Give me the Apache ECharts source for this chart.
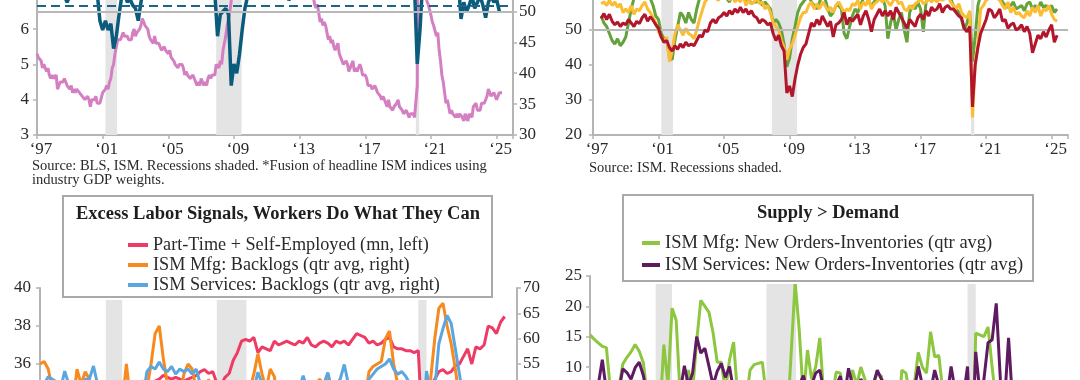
<!DOCTYPE html>
<html><head><meta charset="utf-8">
<script src="https://cdn.jsdelivr.net/npm/echarts/dist/echarts.min.js"></script>
<style>html,body{margin:0;padding:0;background:#fff;overflow:hidden}#c{width:1080px;height:380px}</style>
</head><body><div id="c"></div>
<script>
// ---------- DATA ----------
const xTickYears = [1997, 2001, 2005, 2009, 2013, 2017, 2021, 2025];
const recessionsMonthly = [[2001.17, 2001.88], [2007.92, 2009.46], [2020.08, 2020.28]];
const recessionsQuarterly = [[2001.0, 2002.0], [2007.75, 2009.55], [2020.0, 2020.5]];

// Top-left: unemployment rate (left axis), monthly from Jan 1997
const unemployment = [
5.3,5.2,5.2,5.1,4.9,5.0,4.9,4.8,4.9,4.7,4.6,4.7,
4.6,4.6,4.7,4.3,4.4,4.5,4.5,4.5,4.6,4.5,4.4,4.4,
4.3,4.4,4.2,4.3,4.2,4.3,4.3,4.2,4.2,4.1,4.1,4.0,
4.0,4.1,4.0,3.8,4.0,4.0,4.0,4.1,3.9,3.9,3.9,3.9,
4.2,4.2,4.3,4.4,4.3,4.5,4.6,4.9,5.0,5.3,5.5,5.7,
5.7,5.7,5.7,5.9,5.8,5.8,5.8,5.7,5.7,5.7,5.9,6.0,
5.8,5.9,5.9,6.0,6.1,6.3,6.2,6.1,6.1,6.0,5.8,5.7,
5.7,5.6,5.8,5.6,5.6,5.6,5.5,5.4,5.4,5.5,5.4,5.4,
5.3,5.4,5.2,5.2,5.1,5.0,5.0,4.9,5.0,5.0,5.0,4.9,
4.7,4.8,4.7,4.7,4.6,4.6,4.7,4.7,4.5,4.4,4.5,4.4,
4.6,4.5,4.4,4.5,4.4,4.6,4.7,4.6,4.7,4.7,4.7,5.0,
5.0,4.9,5.1,5.0,5.4,5.6,5.8,6.1,6.1,6.5,6.8,7.3,
7.8,8.3,8.7,9.0,9.4,9.5,9.5,9.6,9.8,10.0,9.9,9.9,
9.8,9.8,9.9,9.9,9.6,9.4,9.4,9.5,9.5,9.4,9.8,9.3,
9.1,9.0,9.0,9.1,9.0,9.1,9.0,9.0,9.0,8.8,8.6,8.5,
8.3,8.3,8.2,8.2,8.2,8.2,8.2,8.1,7.8,7.8,7.7,7.9,
8.0,7.7,7.5,7.6,7.5,7.5,7.3,7.2,7.2,7.2,6.9,6.7,
6.6,6.7,6.7,6.2,6.3,6.1,6.2,6.1,5.9,5.7,5.8,5.6,
5.7,5.5,5.4,5.4,5.6,5.3,5.2,5.1,5.0,5.0,5.1,5.0,
4.8,4.9,5.0,5.1,4.8,4.9,4.8,4.9,5.0,4.9,4.7,4.7,
4.7,4.6,4.4,4.4,4.4,4.3,4.3,4.4,4.3,4.2,4.2,4.1,
4.0,4.1,4.0,4.0,3.8,4.0,3.8,3.8,3.7,3.8,3.8,3.9,
4.0,3.8,3.8,3.7,3.6,3.6,3.7,3.6,3.5,3.6,3.6,3.6,
3.5,3.5,4.4,14.8,13.2,11.0,10.2,8.4,7.8,6.8,6.7,6.7,
6.4,6.2,6.1,6.1,5.8,5.9,5.4,5.1,4.7,4.5,4.2,3.9,
4.0,3.8,3.6,3.7,3.6,3.6,3.5,3.6,3.5,3.6,3.6,3.5,
3.4,3.6,3.5,3.4,3.6,3.6,3.5,3.8,3.8,3.9,3.7,3.7,
3.7,3.9,3.9,3.9,4.0,4.1,4.3,4.2,4.1,4.1,4.2,4.1,
4.0,4.1,4.2,4.2,4.2];

// Top-left: ISM fusion index (right axis), every 2 months from Jul 1997
const ismFusion = [
56,57,56,
56,55.5,55,54,52.5,51.5,
52.5,54,56,57,58,57,
58,57,56,54.5,53,48.5,
47,48.5,47,48,44,46,
49.5,52.5,53,51.5,52,51,
50.5,48.5,51.5,54,56,58,
59,60,61,60,59,60,
58,59,58,60,59,58,
59,58,57,56,55,54,
55,54,55,54,53.5,53,
46,49.5,50,50.5,49.5,38,
41.5,40,43,47,50.5,52.5,
54,56,57,56,57,58,
59,58,55,54,54.5,54,
55,56,51.8,52.5,53,53.5,
54,55,53,55.5,56,56.5,
56,55,56.5,57,58,57,
56,55,55.5,57,56,55,
53.5,53,52,53.5,55,56,
57,57.5,56,56.5,58,58,
59,59.5,58.5,58,60,59,
56.5,55,54.5,53.5,52.5,53,
54,41.5,47,55,56,57,
60,62,63,62,61,60,
59,57,55,55.5,55,48.8,
51.5,50,51,52.5,50.5,51.5,
52.5,51,49,51.5,52.5,51.5,
52,50];
const ismFusionAverage = 51;
const ismNeutral = 50;

// Top-right: three ISM indices, every 2 months from Jul 1997
const ismGreen = [
54,52,51,
49,47,46,47.5,45.5,46.5,
48,52,56,59,61,60,
62,61,60,59,57,54,
53,49,47.5,47,42.5,41.5,
47,51,55,54,52,55,
53,52,56,59,61,62,
63,64,62,61,60,61,
60,59,58,60,61,60,
59,60,58,59,57.5,58,
58,59,57,58,57,56,
52,53,52,50,46,39.5,
42,47.5,51,55,57,58,
59,60,58,57,56,58,
60,59,56,54,55,57,
57,56,49,47.5,51,54,
56,55,57,59,60,58,
57,58,59,60,59,57,
47.5,52,55,50,53,55,
50,46.5,55,57,56,58,
56,49.5,58,59,60,61,
60,61,62,60,61,59,
57,56,55,53,50,52,
55,41,48,57,60,62,
63,64,63,62,61,60,
58,57,56.5,57,58,56,
56.5,57,55.5,57.5,58,56,
57,56,58,56.5,57,56,
57,55,56];
const ismGold = [
57.5,58,57,
58.5,57,58,56.5,57.5,55,
56,55,57,54.5,56,55.5,
57,58,56,55,53.5,52,
49.5,48,46.5,48,41,44,
49,51.5,50,48.5,50.5,49,
48.5,47.5,50,53,55.5,58,
59,60,61,59,58.5,60,
59,61,58.5,60,58,59,
58,60,57,58.5,57.5,58,
59,57.5,58,56,57,55,
52,51,50,47,45,41.5,
44.5,46,48.5,51,53.5,55,
55,57,58,56,57.5,56,
58,57,55.5,56.5,55,57,
58,56.5,55,56,55.5,57.5,
57,58.5,56,58,57,59,
56,57.5,58,59,58,59,
58,57,58.5,59,57.5,58,
56,55.5,57,56,57.5,58,
59,57.5,58,59,58,59,
58,59,58.5,59,60,58,
57,56,57.5,55,54,53.5,
55.5,25,40,46,56,57,
58.5,59,61,60,59,58.5,
57,56,58,55,56.5,54.5,
55,54,53.5,55.5,54,56.5,
55,57,54,56,55.5,57,
54.5,53,52.5];
const ismRed = [
53.3,54.7,53,
54.5,52.5,51.5,52.3,51,52,
51.5,53,52,51,52.5,51.8,
53.5,54.5,52.5,53.8,52.8,51.5,
50.5,48,46.5,47,45,44,
45.5,44.5,46,45,46.5,45.5,
46,45.5,47,48.5,48,50,
49.5,52,53,52,53.5,54,
55,54,55.5,54.5,56,55,
56.5,55,56,54.5,55.5,54,
53.5,52,53,52.5,51.5,52,
49,47,48.5,45.5,44,32,
34,31,36,40,43,45,
46,49,52,51,53,51.5,
54,52.5,51,52.5,48,51.5,
52,53,55,51.5,53.5,52.5,
53.5,54.5,51.5,54,55.5,53,
49.5,53,54.5,56,54,55.5,
54,55.5,53,56.5,55,53.5,
52,50.5,53,52,51,53.5,
54.5,53,55.5,54,56.5,55.5,
56,57.5,55,56.5,57,56,
56,55,54,53.5,50.5,49.5,
51,28,40,45,49,51,
53,56,55.5,53.5,54.5,56,
52.5,53,50.5,51.5,52,50,
50.5,51.5,49.5,51,49,43.5,
46,48.5,47.5,49.5,48,50,
51.5,46.5,48.5];

// Bottom-left: quarterly from 1997Q1
const partTimeSelfEmployed = [
34.8,34.6,34.5,34.3, 34.2,34.0,34.1,33.9, 33.8,33.9,33.7,33.8, 33.6,33.5,33.7,33.8,
34.0,34.2,34.5,34.8, 34.9,35.0,34.9,35.0, 35.0,35.1,34.9,35.0, 35.1,35.2,35.4,35.3,
35.2,35.3,35.2,35.1, 35.2,35.3,35.4,35.6, 35.7,35.5,35.6,35.0, 34.9,35.3,35.5,36.2,
36.6,37.2,37.3,37.2, 37.4,36.6,36.9,36.8, 36.7,37.2,37.0,37.1, 37.2,37.1,37.0,37.2,
37.1,37.4,37.0,36.9, 37.1,37.2,37.1,36.9, 37.2,37.1,37.2,37.0, 37.3,37.6,37.5,37.4,
37.1,37.2,37.0,37.1, 37.3,37.4,36.9,36.8, 36.8,36.7,36.7,36.6, 36.7,32.5,34.0,34.8,
35.2,35.6,35.7,35.5, 35.6,35.9,36.0,36.4, 36.8,36.0,36.9,36.8, 37.0,38.0,37.9,37.6,
38.2,38.5];
const ismMfgBacklogs = [
55,55.5,54,50, 47,46,43,42, 47,54,51,53.5, 52,49,45,42,
38,40,41,39, 47,55,48,44, 43,44,50,55, 61,62.5,56,51,
49,46,49,53, 55,54,50,46, 48,52,49,45, 44,45,40,30,
31,40,45,50, 53,57,53,50, 54,52.5,45,44, 50,47,44,46,
49,47,46,51, 52,51,52,49, 48,46,43,42, 44,47,46,48,
53.5,54.5,55,55.5, 60,61.5,55,51, 49,46,44,43, 44,33,45,52,
60,66,67,62.5, 59,54,48,43, 43,41,42,43, 45,42,41,43,
46,44];
const ismSvcBacklogs = [
50,51,52.5,52, 51.5,50,53.6,51, 50,51.5,50,52, 52,54.6,51,47,
45,44,46,43, 48,49,47,48, 46,48,53.5,54.5, 54,55.4,54,53.5,
54.5,53,54,53.5, 54,53,54,51, 50,49,48,47, 46,45,44,38,
37,41,45,48, 50,53.4,51,49, 50,51,49,48, 50,49,50,50,
52.7,50,49,50, 51,51,53.3,50, 51,52,54.9,51, 50,51,49,50,
52,53,54,54.5, 55,56,54,53, 53.5,52.5,51,48, 50,42,53.6,49,
50,59,62,64.6, 63,58,53,48, 46,45,46,47, 44,46,45,44,
46,45];

// Bottom-right: quarterly from 1997Q1
const mfgNewOrdersLessInv = [
15.3,14.6,14.0,13.4, 13.2,6.0,3.0,6.5, 10.5,11.6,12.5,13.7, 12.6,10.7,5.0,1.0,
-4.0,2.0,13.7,7.0, 19.7,17.7,5.0,6.0, 9.5,6.0,14.3,21.0, 20.0,19.0,15.6,10.8,
10.8,6.0,11.2,14.1, 5.0,3.0,4.0,9.5, 10.4,10.6,10.8,5.0, 2.0,-2.0,-6.0,-12.0,
0.0,12.0,24.0,16.0, 5.0,12.8,8.0,10.0, 14.8,5.0,3.0,5.0, 9.2,9.0,4.0,5.0,
9.5,7.0,10.0,8.0, 6.0,7.0,9.0,8.5, 4.0,2.0,0.0,1.0, 9.5,9.0,5.0,7.0,
12.4,10.0,9.0,15.8, 11.7,11.9,6.0,2.0, 2.0,0.0,-2.0,1.0, 3.0,-10.0,15.6,15.3,
15.0,16.6,10.0,4.0, 1.0,-3.0,-8.0,-6.0, -2.0,-4.0,-1.0,0.0, 2.0,-2.0,-3.0,1.0,
2.0,-4.0];
const svcNewOrdersLessInv = [
6,5,7,11.2, 6,4,5,6, 9.7,9.1,8.0,9.9, 10.8,8.6,5,3,
0,2,-4,-2, 3,5,6,10.2, 7,9,15,12.3, 13.1,10.1,7,9.3,
10.6,8.3,10.1,6, 5,7,4,6, 5,6,4,3, 0,2,1,-3,
0,4,6,7, 8.6,6,7,9, 9.5,6,5,6, 7,8.5,5,9.8,
7,6,8,7, 6,7,9.5,8, 7,6,5,7, 6,5,7,6,
10.1,7,5,6, 9.5,7,6,5, 10.1,6,4,5, 10.1,-5,12.5,6,
8,14,14.5,20.5, 8,4,14.8,4, 3,1,4,2, 5,1,3,6,
2,4];

// ---------- CHART ----------
const FONT = '"Liberation Serif", "Times New Roman", serif';
const AX = '#b4b4b4', TXT = '#2a2a2a';
function pairs(start, step, vals) { return vals.map((v, i) => [start + i * step, v]); }
function yr(v) { return xTickYears.indexOf(Math.round(v * 1000) / 1000) >= 0 ? '\u2018' + String(Math.round(v)).slice(2) : ''; }

function xAxis(g) {
  return { type: 'value', gridIndex: g, min: 1997, max: 2026, interval: 4,
    axisLine: { show: true, onZero: false, lineStyle: { color: AX, width: 2 } },
    axisTick: { show: true, length: 4, lineStyle: { color: AX, width: 1.5 } },
    splitLine: { show: false },
    axisLabel: { formatter: yr, fontFamily: FONT, fontSize: 17, color: TXT, margin: 6, padding: [0, 0, 0, 8] } };
}
function yAxis(g, pos, min, max, interval, margin) {
  return { type: 'value', gridIndex: g, position: pos, min: min, max: max, interval: interval,
    axisLine: { show: true, onZero: false, lineStyle: { color: AX, width: 2 } },
    axisTick: { show: true, length: 4, lineStyle: { color: AX, width: 1.5 } },
    splitLine: { show: false },
    axisLabel: { fontFamily: FONT, fontSize: 17, color: TXT, margin: margin,
      formatter: v => (Math.abs((v - min) / interval - Math.round((v - min) / interval)) < 1e-6) ? String(v) : '' } };
}
function bands(g, yi, list, extraLines) {
  return { type: 'line', xAxisIndex: g, yAxisIndex: yi, data: [], silent: true, z: 1,
    markArea: { silent: true, itemStyle: { color: '#e4e4e4' }, data: list.map(b => [{ xAxis: b[0] }, { xAxis: b[1] }]) },
    markLine: extraLines ? { silent: true, symbol: ['none', 'none'], label: { show: false }, data: extraLines } : undefined };
}
function line(name, g, yi, data, color, width, z) {
  return { type: 'line', name: name, xAxisIndex: g, yAxisIndex: yi, data: data, showSymbol: false, symbol: 'none',
    lineStyle: { color: color, width: width }, itemStyle: { color: color }, z: z || 3, animation: false };
}

const grids = [
  { left: 37, top: -41.5, width: 476, height: 176.5 },
  { left: 593, top: -40, width: 475, height: 175 },
  { left: 40, top: 288, width: 477, height: 152 },
  { left: 590, top: 276, width: 476, height: 151.75 }
].map(g => Object.assign({ containLabel: false, outerBoundsMode: 'none' }, g));

const option = {
  animation: false,
  backgroundColor: '#fff',
  grid: grids,
  xAxis: [xAxis(0), xAxis(1), xAxis(2), xAxis(3)],
  yAxis: [
    yAxis(0, 'left', 3, 8, 1, 8),
    yAxis(0, 'right', 30, 30 + 5 * 20 / 3.5, 5, 6),
    yAxis(1, 'left', 20, 70, 10, 11),
    yAxis(2, 'left', 32, 40, 2, 9),
    yAxis(2, 'right', 40, 70, 5, 6),
    yAxis(3, 'left', 0, 25, 5, 8)
  ],
  legend: [
    { z: 300, orient: 'vertical', left: 123, top: 230, itemWidth: 20, itemHeight: 4, itemGap: 0, icon: 'rect', selectedMode: false,
      textStyle: { fontFamily: FONT, fontSize: 18.2, color: TXT, lineHeight: 20 },
      data: ['Part-Time + Self-Employed (mn, left)', 'ISM Mfg: Backlogs (qtr avg, right)', 'ISM Services: Backlogs (qtr avg, right)'] },
    { z: 300, orient: 'vertical', left: 637, top: 227, itemWidth: 18, itemHeight: 4, itemGap: 0, icon: 'rect', selectedMode: false,
      textStyle: { fontFamily: FONT, fontSize: 18.5, color: TXT, lineHeight: 22 },
      data: ['ISM Mfg: New Orders-Inventories (qtr avg)', 'ISM Services: New Orders-Inventories (qtr avg)'] }
  ],
  series: [
    bands(0, 1, recessionsMonthly, [
      { yAxis: ismNeutral, lineStyle: { color: '#b8b8b8', type: 'solid', width: 2 } },
      { yAxis: ismFusionAverage, lineStyle: { color: '#1b6688', type: [9, 5], width: 2 } }]),
    line('Unemployment Rate', 0, 0, pairs(1997, 1 / 12, unemployment), '#d47fc2', 3, 3),
    line('ISM Fusion*', 0, 1, pairs(1997.5, 1 / 6, ismFusion), '#0b5b7c', 3.5, 4),

    bands(1, 2, recessionsMonthly, [{ yAxis: ismNeutral, lineStyle: { color: '#b8b8b8', type: 'solid', width: 2 } }]),
    line('ISM A', 1, 2, pairs(1997.5, 1 / 6, ismGreen), '#64a23c', 3, 3),
    line('ISM B', 1, 2, pairs(1997.5, 1 / 6, ismGold), '#fbbd33', 3, 4),
    line('ISM C', 1, 2, pairs(1997.5, 1 / 6, ismRed), '#b2162d', 3, 5),

    bands(2, 3, recessionsQuarterly),
    line('Part-Time + Self-Employed (mn, left)', 2, 3, pairs(1997, 0.25, partTimeSelfEmployed), '#ee3b66', 3, 3),
    line('ISM Mfg: Backlogs (qtr avg, right)', 2, 4, pairs(1997, 0.25, ismMfgBacklogs), '#f6891f', 3, 4),
    line('ISM Services: Backlogs (qtr avg, right)', 2, 4, pairs(1997, 0.25, ismSvcBacklogs), '#5aa7e0', 3, 5),

    bands(3, 5, recessionsQuarterly),
    line('ISM Mfg: New Orders-Inventories (qtr avg)', 3, 5, pairs(1997, 0.25, mfgNewOrdersLessInv), '#8dc63f', 3, 3),
    line('ISM Services: New Orders-Inventories (qtr avg)', 3, 5, pairs(1997, 0.25, svcNewOrdersLessInv), '#5f1a62', 3, 4)
  ],
  graphic: [
    { type: 'text', z: 50, left: 32, top: 159, style: { text: 'Source: BLS, ISM. Recessions shaded. *Fusion of headline ISM indices using\nindustry GDP weights.', font: '14.5px ' + FONT, fill: TXT, lineHeight: 14 } },
    { type: 'text', z: 50, left: 589, top: 161, style: { text: 'Source: ISM. Recessions shaded.', font: '14.5px ' + FONT, fill: TXT } },
    { type: 'rect', z: 100, shape: { x: 60, y: 193, width: 435, height: 107 }, style: { fill: '#fff' } },
    { type: 'rect', z: 101, shape: { x: 63, y: 196, width: 429, height: 101 }, style: { fill: '#fff', stroke: '#a9a9a9', lineWidth: 2 } },
    { type: 'text', z: 102, x: 278, y: 214, style: { text: 'Excess Labor Signals, Workers Do What They Can', font: 'bold 18.5px ' + FONT, fill: '#1e1e1e', align: 'center', verticalAlign: 'middle' } },
    { type: 'rect', z: 100, shape: { x: 620, y: 192, width: 416, height: 92 }, style: { fill: '#fff' } },
    { type: 'rect', z: 101, shape: { x: 623, y: 195, width: 410, height: 86 }, style: { fill: '#fff', stroke: '#a9a9a9', lineWidth: 2 } },
    { type: 'text', z: 102, x: 828, y: 213, style: { text: 'Supply > Demand', font: 'bold 18.5px ' + FONT, fill: '#1e1e1e', align: 'center', verticalAlign: 'middle' } }
  ]
};

const chart = echarts.init(document.getElementById('c'), null, { renderer: 'canvas' });
chart.setOption(option);
</script></body></html>
